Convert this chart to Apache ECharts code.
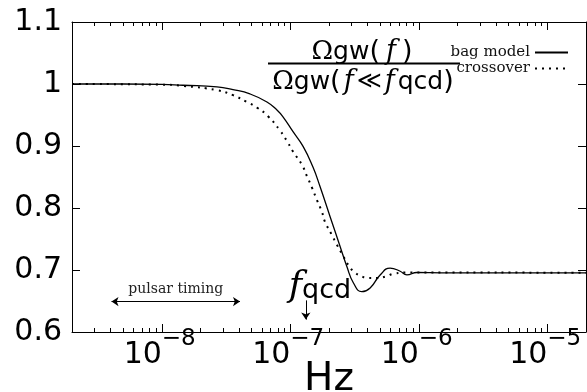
<!DOCTYPE html>
<html>
<head>
<meta charset="utf-8">
<script src="https://cdn.jsdelivr.net/npm/echarts@6/dist/echarts.min.js"></script>
<style>
  html, body { margin: 0; padding: 0; background: #fff; }
  #chart { width: 587px; height: 392px; }
</style>
</head>
<body>
<div id="chart"></div>
<script>
// bag model (solid line)
const bagFreq = [2e-9, 5e-9, 1e-8, 1.46e-8, 2.69e-8, 3.58e-8, 4.85e-8, 6.58e-8, 7.87e-8, 8.77e-8,
  1.05e-7, 1.26e-7, 1.5e-7, 1.7e-7, 2.04e-7, 2.44e-7, 2.75e-7, 3.1e-7, 3.6e-7, 4.18e-7,
  5.0e-7, 5.98e-7, 7.16e-7, 8.07e-7, 9.66e-7, 1.5e-6, 2e-5];
const bagOmega = [1.0, 1.0, 0.9995, 0.998, 0.9955, 0.991, 0.984, 0.971, 0.958, 0.947,
  0.923, 0.899, 0.866, 0.835, 0.786, 0.738, 0.706, 0.679, 0.665, 0.671,
  0.692, 0.703, 0.698, 0.692, 0.696, 0.6955, 0.6955];

// crossover (dotted line)
const crossFreq = [2e-9, 1e-8, 1.46e-8, 2.69e-8, 3.58e-8, 4.6e-8, 5.5e-8, 6.7e-8, 8.31e-8, 9.6e-8,
  1.05e-7, 1.23e-7, 1.35e-7, 1.48e-7, 1.61e-7, 1.76e-7, 1.86e-7, 2.1e-7, 2.3e-7, 2.59e-7,
  2.83e-7, 3.1e-7, 3.49e-7, 4.05e-7, 4.71e-7, 5.64e-7, 6.35e-7, 8.57e-7, 2e-5];
const crossOmega = [1.0, 0.999, 0.997, 0.99, 0.982, 0.971, 0.962, 0.948, 0.925, 0.905,
  0.891, 0.87, 0.851, 0.832, 0.813, 0.794, 0.778, 0.757, 0.741, 0.722,
  0.708, 0.698, 0.691, 0.687, 0.687, 0.69, 0.694, 0.696, 0.6955];

const seriesNames = ['bag model', 'crossover'];
const xRange = [2e-9, 2e-5];
const yRange = [0.6, 1.1];
const majorTicks = [1e-8, 1e-7, 1e-6, 1e-5];
const minorTicks = [];
[1e-9, 1e-8, 1e-7, 1e-6, 1e-5].forEach((d) => {
  for (let k = 2; k <= 9; k += 1) {
    const v = k * d;
    if (v > xRange[0] && v < xRange[1]) minorTicks.push(v);
  }
});

// annotations
const pulsarBand = [4.06e-9, 4.06e-8];
const pulsarLevel = 0.649;
const fQcd = 1.32e-7;
const fQcdArrow = [0.651, 0.62];
const fQcdLabelAt = [1.7e-7, 0.673];

const pairs = (xs, ys) => xs.map((x, i) => [x, ys[i]]);

const black = '#000';
const sans = 'DejaVu Sans';
const serif = 'DejaVu Serif';

function xAxisBase(position, ticks, len, showLine) {
  return {
    type: 'log',
    min: xRange[0],
    max: xRange[1],
    position,
    axisLine: { show: showLine, lineStyle: { color: black, width: 1 } },
    axisTick: { show: true, inside: true, length: len, customValues: ticks, lineStyle: { color: black, width: 1 } },
    axisLabel: { show: false },
    splitLine: { show: false },
    minorTick: { show: false },
  };
}

const exponentOf = (value) => Math.round(Math.log10(value));

// "10" part of the tick labels, right edge on the tick
const bottomMajor = xAxisBase('bottom', majorTicks, 8, true);
bottomMajor.axisLabel = {
  show: true,
  customValues: majorTicks,
  align: 'right',
  margin: 8,
  fontSize: 30,
  fontFamily: sans,
  color: black,
  formatter: () => '10',
};
bottomMajor.name = 'Hz';
bottomMajor.nameLocation = 'middle';
bottomMajor.nameGap = 28;
bottomMajor.nameMoveOverlap = false;
bottomMajor.nameTextStyle = { fontSize: 39, fontFamily: sans, color: black, verticalAlign: 'top' };

// superscript exponent, left edge on the tick
const bottomMinor = xAxisBase('bottom', minorTicks, 4, false);
bottomMinor.axisLabel = {
  show: true,
  customValues: majorTicks,
  align: 'left',
  margin: -4,
  fontSize: 23,
  fontFamily: sans,
  color: black,
  formatter: (value) => `−${Math.abs(exponentOf(value))}`,
};

function yAxisBase(position, showLabels) {
  return {
    type: 'value',
    min: yRange[0],
    max: yRange[1],
    interval: 0.1,
    position,
    axisLine: { show: true, lineStyle: { color: black, width: 1 } },
    axisTick: { show: true, inside: true, length: 8, lineStyle: { color: black } },
    axisLabel: { show: showLabels, fontSize: 30, fontFamily: sans, color: black, margin: 10 },
    splitLine: { show: false },
  };
}

const chart = echarts.init(document.getElementById('chart'), null, { renderer: 'canvas' });
chart.setOption({
  backgroundColor: '#fff',
  animation: false,
  grid: { left: 72, right: 1, top: 22, bottom: 60, containLabel: false, outerBoundsMode: 'none' },
  legend: {
    data: seriesNames,
    orient: 'vertical',
    right: 13,
    top: 40,
    align: 'right',
    itemWidth: 33,
    itemHeight: 14,
    itemGap: 1,
    itemStyle: { opacity: 0 },
    textStyle: { fontFamily: serif, fontSize: 15, color: '#111' },
  },
  xAxis: [
    bottomMajor,
    bottomMinor,
    xAxisBase('top', majorTicks, 8, true),
    xAxisBase('top', minorTicks, 4, false),
  ],
  yAxis: [yAxisBase('left', true), yAxisBase('right', false)],
  graphic: [
    {
      type: 'text',
      x: 362,
      y: 52,
      style: {
        text: '{o|Ω}{s|gw}{p|(}{f|f}{p|)}',
        align: 'center',
        verticalAlign: 'middle',
        rich: {
          o: { fontFamily: serif, fontSize: 26, fill: black },
          s: { fontFamily: sans, fontSize: 25, fill: black },
          p: { fontFamily: sans, fontSize: 27, fill: black },
          f: { fontFamily: serif, fontStyle: 'italic', fontSize: 27, fill: black, padding: [0, 6, 0, 6] },
        },
      },
    },
    {
      type: 'line',
      shape: { x1: 268, y1: 63.5, x2: 460, y2: 63.5 },
      style: { stroke: black, lineWidth: 2 },
    },
    {
      type: 'text',
      x: 363,
      y: 82,
      style: {
        text: '{o|Ω}{s|gw}{p|(}{f|f}{r|≪}{f|f}{s|qcd}{p|)}',
        align: 'center',
        verticalAlign: 'middle',
        rich: {
          o: { fontFamily: serif, fontSize: 26, fill: black },
          s: { fontFamily: sans, fontSize: 25, fill: black },
          p: { fontFamily: sans, fontSize: 27, fill: black },
          r: { fontFamily: sans, fontSize: 24, fill: black },
          f: { fontFamily: serif, fontStyle: 'italic', fontSize: 27, fill: black, padding: [0, 3, 0, 3] },
        },
      },
    },
  ],
  series: [
    {
      name: seriesNames[0],
      type: 'line',
      data: pairs(bagFreq, bagOmega),
      symbol: 'none',
      smooth: 0.5,
      lineStyle: { color: black, width: 1.3, type: 'solid' },
      itemStyle: { color: black },
      markLine: {
        silent: true,
        symbolSize: 7,
        lineStyle: { color: black, width: 1, type: 'solid' },
        label: { show: false },
        data: [
          [
            {
              coord: [pulsarBand[0], pulsarLevel],
              symbol: 'arrow',
              label: {
                show: true,
                position: 'insideMiddleTop',
                distance: 5,
                formatter: 'pulsar timing',
                fontFamily: serif,
                fontSize: 14,
                color: '#222',
              },
            },
            { coord: [pulsarBand[1], pulsarLevel], symbol: 'arrow' },
          ],
          [
            { coord: [fQcd, fQcdArrow[0]], symbol: 'none' },
            { coord: [fQcd, fQcdArrow[1]], symbol: 'arrow' },
          ],
        ],
      },
      markPoint: {
        silent: true,
        data: [
          {
            coord: fQcdLabelAt,
            symbol: 'circle',
            symbolSize: 1,
            itemStyle: { color: 'transparent' },
            label: {
              show: true,
              position: 'inside',
              formatter: '{f|f}{q|qcd}',
              rich: {
                f: { fontFamily: serif, fontStyle: 'italic', fontSize: 36, color: black },
                q: { fontFamily: sans, fontSize: 27, color: black, padding: [8, 0, 0, 0] },
              },
            },
          },
        ],
      },
    },
    {
      name: seriesNames[1],
      type: 'line',
      data: pairs(crossFreq, crossOmega),
      symbol: 'none',
      smooth: 0.5,
      lineStyle: { color: black, width: 2, type: [2, 5], cap: 'butt' },
      itemStyle: { color: black },
    },
  ],
});
</script>
</body>
</html>
